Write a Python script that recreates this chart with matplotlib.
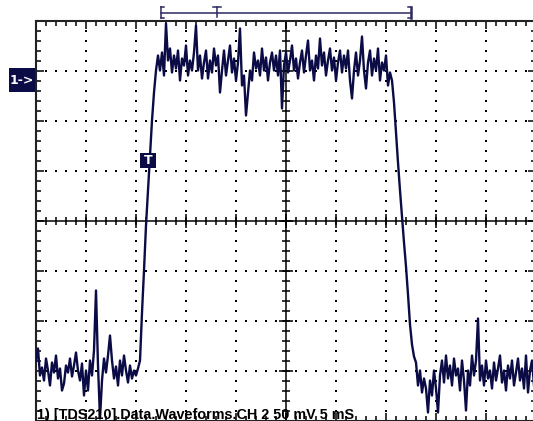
import numpy as np
import matplotlib.pyplot as plt
from matplotlib.patches import Rectangle

# TDS210 screen: 10 x 8 divisions, 5 ms/div, 50 mV/div, 250 samples across
dt_ms = 0.2
x_range = (-25, 25)
y_range = (-200, 200)

# trace values in mV (0 mV = screen centre)
low_left = [-140, -128, -155, -147, -160, -138, -150, -165, -142, -152,
            -135, -158, -148, -170, -163, -145, -152, -138, -156, -145,
            -132, -150, -160, -143, -175, -150, -170, -140, -155, -130,
            -70, -145, -198, -160, -138, -152, -135, -115, -140, -158,
            -146, -165, -140, -155, -135, -150, -162, -145, -158, -150,
            -155, -148]
rise = [-140, -92, -50, -5, 30, 66, 100, 128, 150, 165]
high = [150, 168, 145, 197, 160, 172, 148, 165, 152, 170,
        140, 162, 155, 175, 145, 160, 150, 168, 195, 150,
        165, 142, 158, 170, 142, 160, 148, 172, 155, 165,
        128, 150, 170, 145, 160, 175, 148, 162, 140, 158,
        192, 135, 145, 105, 128, 150, 140, 168, 152, 160,
        145, 172, 150, 163, 140, 158, 168, 150, 165, 145,
        170, 112, 155, 168, 148, 160, 175, 150, 162, 142,
        158, 170, 148, 165, 180, 150, 160, 140, 165, 152,
        182, 155, 168, 145, 160, 172, 150, 163, 140, 158,
        170, 148, 165, 152, 170, 140, 122, 150, 168, 145,
        160, 184, 150, 132, 158, 170, 145, 162, 150, 172,
        140, 158, 150, 165, 135, 148]
fall = [140, 118, 88, 58, 30, 4, -22, -46, -74, -104, -124, -136]
low_right = [-142, -165, -150, -172, -158, -168, -192, -160, -175, -150,
             -168, -192, -155, -140, -162, -135, -158, -145, -165, -138,
             -155, -148, -170, -140, -160, -190, -150, -165, -135, -155,
             -140, -98, -160, -145, -165, -140, -158, -150, -168, -142,
             -160, -148, -135, -162, -150, -170, -145, -158, -140, -165,
             -152, -138, -160, -148, -168, -135, -172, -150, -140, -165]

trace_mv = np.array(low_left + rise + high + fall + low_right)
t_ms = x_range[0] + dt_ms * np.arange(len(trace_mv))

footer = "1) [TDS210].Data.Waveforms.CH 2 50 mV 5 mS"
ch_label = "1->"
trig_label = "T"

navy = '#0b0b45'
W, H = 533, 421

fig = plt.figure(figsize=(W / 100, H / 100), dpi=100)
ax = fig.add_axes([36 / W, 0.5 / H, 500 / W, 400 / H])
ax.set_xlim(*x_range)
ax.set_ylim(*y_range)

# dotted graticule
gx = np.arange(-20, 21, 5)
gy = np.arange(-150, 151, 50)
fx = np.arange(-25, 25.01, 1)
fy = np.arange(-200, 200.01, 10)
for x in gx:
    if x != 0:
        ax.scatter(np.full(fy.size, x), fy, s=1.4, c='black', marker='s',
                   linewidths=0, zorder=1)
for y in gy:
    if y != 0:
        ax.scatter(fx, np.full(fx.size, y), s=1.4, c='black', marker='s',
                   linewidths=0, zorder=1)

# centre crosshair with tick marks
ax.axhline(0, color='black', lw=1.1, zorder=2)
ax.axvline(0, color='black', lw=1.1, zorder=2)
ax.plot(fx, np.zeros(fx.size), ls='none', marker='|', ms=6, mew=1.1,
        color='black', zorder=2)
ax.plot(gx, np.zeros(gx.size), ls='none', marker='|', ms=10, mew=1.1,
        color='black', zorder=2)
ax.plot(np.zeros(fy.size), fy, ls='none', marker='_', ms=6, mew=1.1,
        color='black', zorder=2)
ax.plot(np.zeros(gy.size), gy, ls='none', marker='_', ms=10, mew=1.1,
        color='black', zorder=2)

# border ticks
ax.set_xticks(gx)
ax.set_yticks(gy)
ax.set_xticks(fx, minor=True)
ax.set_yticks(fy, minor=True)
ax.tick_params(which='both', direction='in', top=True, right=True,
               labelbottom=False, labelleft=False, color='black', width=1.1)
ax.tick_params(which='major', length=6)
ax.tick_params(which='minor', length=3.5)
for s in ax.spines.values():
    s.set_linewidth(1.5)
    s.set_color('#222222')

# waveform
ax.plot(t_ms, trace_mv, color=navy, lw=1.7, zorder=3)

# trigger marker on the rising edge
ax.add_patch(Rectangle((-14.6, 52.5), 1.6, 15, fc=navy, ec='none', zorder=4))
ax.text(-13.8, 60, trig_label, color='white', fontsize=9, fontweight='bold',
        ha='center', va='center', zorder=5)

# overlay in pixel coordinates for the screen annotations
ov = fig.add_axes([0, 0, 1, 1])
ov.set_xlim(0, W)
ov.set_ylim(H, 0)
ov.axis('off')
ov.patch.set_alpha(0)

ov.add_patch(Rectangle((9, 68), 26, 24, fc=navy, ec='none'))
ov.text(22, 80.5, ch_label, color='white', fontsize=9, fontweight='bold',
        ha='center', va='center')

# trigger position bracket on top
bc = '#2a2a60'
ov.plot([161, 411], [12.5, 12.5], color=bc, lw=1.1)
ov.plot([161, 161], [7, 18], color=bc, lw=1.1)
ov.plot([161, 163.5], [7, 7], color=bc, lw=1.1)
ov.plot([161, 163.5], [18, 18], color=bc, lw=1.1)
ov.plot([411, 411], [7, 18], color=bc, lw=1.8)
ov.plot([408, 411], [7, 7], color=bc, lw=1.1)
ov.plot([408, 411], [18, 18], color=bc, lw=1.1)
ov.plot([212.5, 220.5], [6.5, 6.5], color=bc, lw=1.1)
ov.plot([216.5, 216.5], [6.5, 17], color=bc, lw=1.1)

ov.text(37, 419.5, footer, color='black', fontsize=10.4, fontweight='bold',
        family=['Liberation Sans', 'DejaVu Sans'], ha='left', va='baseline')

fig.savefig('out.png', dpi=100, facecolor='white')
